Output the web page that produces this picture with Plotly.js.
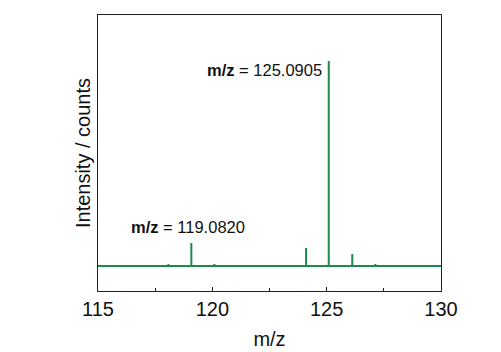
<!DOCTYPE html>
<html>
<head>
<meta charset="utf-8">
<script src="https://cdn.plot.ly/plotly-3.0.1.min.js"></script>
<style>html,body{margin:0;padding:0;background:#fff;}#chart{width:501px;height:352px;}</style>
</head>
<body>
<div id="chart"></div>
<script>
// Peak list (m/z, relative intensity)
var peakMz = [118.08, 119.082, 120.09, 124.10, 125.0905, 126.12, 127.13];
var peakIntensity = [1.0, 11.2, 1.0, 8.8, 100, 5.9, 1.0];
var mzStart = 115, mzEnd = 130;
var xTicks = [115, 120, 125, 130];
var labelTexts = ["m/z = 125.0905", "m/z = 119.0820"];

var xs = [mzStart], ys = [0];
for (var i = 0; i < peakMz.length; i++) {
  xs.push(peakMz[i], peakMz[i], peakMz[i]);
  ys.push(0, peakIntensity[i], 0);
}
xs.push(mzEnd); ys.push(0);

var trace = {
  x: xs, y: ys, mode: 'lines', type: 'scatter',
  line: {color: '#1b8a4c', width: 2},
  hoverinfo: 'none', showlegend: false
};

function lbl(t) {
  var parts = t.split(' = ');
  return '<b>' + parts[0] + '</b> = ' + parts[1];
}

var layout = {
  width: 501, height: 352,
  margin: {l: 98, r: 60, t: 15, b: 61},
  paper_bgcolor: '#fff', plot_bgcolor: '#fff',
  font: {family: 'Liberation Sans, Arial, sans-serif', color: '#111'},
  xaxis: {
    range: [mzStart, mzEnd], tickvals: xTicks, ticktext: xTicks.map(String),
    ticks: 'inside', ticklen: 4, tickwidth: 1, tickcolor: '#222',
    minor: {dtick: 2.5, ticks: 'inside', ticklen: 3, tickcolor: '#222'},
    showline: true, linecolor: '#222', linewidth: 1.3, mirror: true,
    showgrid: false, zeroline: false,
    tickfont: {size: 20, color: '#111'},
    title: {text: 'm/z', font: {size: 20, color: '#111'}, standoff: 12}
  },
  yaxis: {
    range: [-12.2, 122.4], showticklabels: false, ticks: '',
    showline: true, linecolor: '#222', linewidth: 1.3, mirror: true,
    showgrid: false, zeroline: false,
    title: {text: 'Intensity / counts', font: {size: 20, color: '#111'}, standoff: 0}
  },
  annotations: [
    {x: 125.0905, y: 100, xref: 'x', yref: 'y', text: lbl(labelTexts[0]), showarrow: false,
     xanchor: 'right', yanchor: 'middle', xshift: -5, yshift: -9, font: {size: 16.5, color: '#111'}},
    {x: 119.082, y: 11.2, xref: 'x', yref: 'y', text: lbl(labelTexts[1]), showarrow: false,
     xanchor: 'center', yanchor: 'middle', xshift: -3, yshift: 16, font: {size: 16.5, color: '#111'}}
  ]
};

Plotly.newPlot('chart', [trace], layout, {staticPlot: true, displayModeBar: false});
</script>
</body>
</html>
